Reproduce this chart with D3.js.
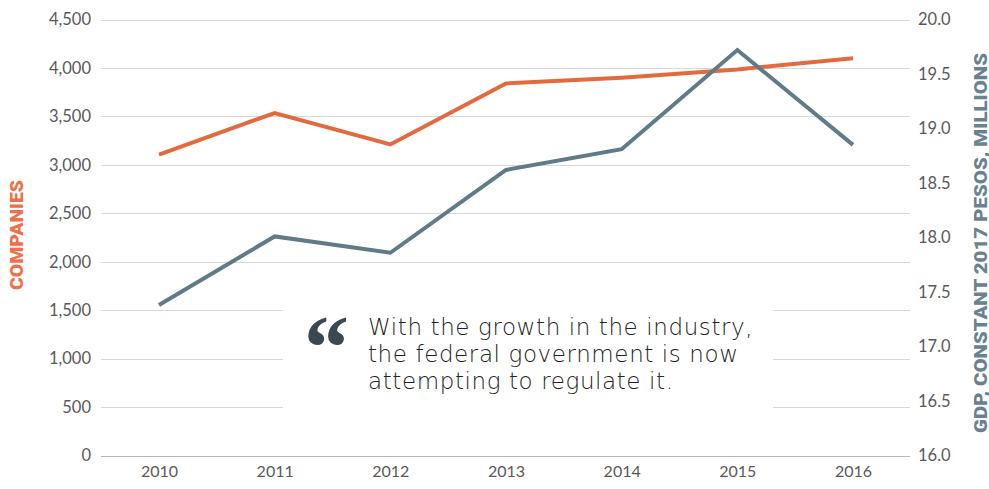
<!DOCTYPE html>
<html>
<head>
<meta charset="utf-8">
<script src="https://cdn.jsdelivr.net/npm/d3@7"></script>
<style>
  body { margin: 0; background: #fff; }
  text { font-family: Lato, "Open Sans", sans-serif; }
</style>
</head>
<body>
<script>
/* Data */
var years = ["2010", "2011", "2012", "2013", "2014", "2015", "2016"];
var companies = [3105, 3535, 3210, 3840, 3900, 3985, 4100];
var gdp = [17.38, 18.01, 17.86, 18.62, 18.81, 19.72, 18.85];
var leftTicks = [0, 500, 1000, 1500, 2000, 2500, 3000, 3500, 4000, 4500];
var rightTicks = [16.0, 16.5, 17.0, 17.5, 18.0, 18.5, 19.0, 19.5, 20.0];
var quoteLines = ["With the growth in the industry,", "the federal government is now", "attempting to regulate it."];

/* Display setup */
var width = 989, height = 489,
	margin = {top: 19, right: 79, bottom: 33, left: 101},
	orange = "#e3693f", slate = "#5f7b88",
	svg = d3.select("body").append("svg")
		.attr("width", width)
		.attr("height", height);

var x = d3.scalePoint().domain(years).range([159, 853]),
	yL = d3.scaleLinear().domain([0, 4500]).range([height - margin.bottom - 0.5, margin.top + 0.5]),
	yR = d3.scaleLinear().domain([16, 20]).range([height - margin.bottom - 0.5, margin.top + 0.5]);

// gridlines
svg.append("g").selectAll("line")
	.data(leftTicks)
	.enter().append("line")
		.attr("x1", margin.left)
		.attr("x2", width - margin.right)
		.attr("y1", function(d) { return Math.round(yL(d)) + 0.5; })
		.attr("y2", function(d) { return Math.round(yL(d)) + 0.5; })
		.style("stroke", function(d) { return d == 0 ? "#b5b5b5" : "#d8d8d8"; })
		.style("stroke-width", 1);

// left axis
var leftAxis = svg.append("g")
	.attr("transform", "translate(" + (margin.left - 10) + ",0)")
	.call(d3.axisLeft(yL).tickValues(leftTicks).tickSize(0).tickPadding(0).tickFormat(d3.format(",")));
leftAxis.select(".domain").remove();
leftAxis.selectAll("text").style("font-size", "16.5px").style("fill", "#595959").style("font-family", "Lato, sans-serif");

// right axis
var rightAxis = svg.append("g")
	.attr("transform", "translate(" + (width - margin.right + 8) + ",0)")
	.call(d3.axisRight(yR).tickValues(rightTicks).tickSize(0).tickPadding(0).tickFormat(d3.format(".1f")));
rightAxis.select(".domain").remove();
rightAxis.selectAll("text").style("font-size", "16.5px").style("fill", "#595959").style("font-family", "Lato, sans-serif");

// bottom axis
var bottomAxis = svg.append("g")
	.attr("transform", "translate(0," + (height - margin.bottom + 10) + ")")
	.call(d3.axisBottom(x).tickSize(0).tickPadding(0));
bottomAxis.select(".domain").remove();
bottomAxis.selectAll("text").style("font-size", "16px").style("fill", "#595959").style("font-family", "Lato, sans-serif");

// axis titles (stretched to the width the original lettering takes)
svg.append("text")
	.attr("transform", "translate(22.5,235) rotate(-90)")
	.attr("text-anchor", "middle")
	.attr("textLength", 110)
	.attr("lengthAdjust", "spacingAndGlyphs")
	.style("font-family", "Roboto, sans-serif")
	.style("font-size", "18px")
	.style("font-weight", 900)
	.style("fill", "#ee6f48")
	.text("COMPANIES");

svg.append("text")
	.attr("transform", "translate(986.5,243) rotate(-90)")
	.attr("text-anchor", "middle")
	.attr("textLength", 380)
	.attr("lengthAdjust", "spacingAndGlyphs")
	.style("font-family", "Roboto, sans-serif")
	.style("font-size", "18px")
	.style("font-weight", 900)
	.style("fill", "#68828f")
	.text("GDP, CONSTANT 2017 PESOS, MILLIONS");

// lines
var lineL = d3.line()
	.x(function(d, i) { return x(years[i]); })
	.y(function(d) { return yL(d); });
var lineR = d3.line()
	.x(function(d, i) { return x(years[i]); })
	.y(function(d) { return yR(d); });

svg.append("path")
	.datum(companies)
	.attr("d", lineL)
	.style("fill", "none")
	.style("stroke", orange)
	.style("stroke-width", 4);

svg.append("path")
	.datum(gdp)
	.attr("d", lineR)
	.style("fill", "none")
	.style("stroke", slate)
	.style("stroke-width", 4);

/* Quote box */
var quote = svg.append("g");
quote.append("rect")
	.attr("x", 283)
	.attr("y", 300)
	.attr("width", 490)
	.attr("height", 115)
	.style("fill", "#fff");

quote.append("text")
	.attr("x", 304)
	.attr("y", 378)
	.style("font-family", "'Liberation Serif', serif")
	.style("font-size", "90px")
	.style("font-weight", 700)
	.style("fill", "#3b4751")
	.text("\u201C");

quote.selectAll("text.quoteLine")
	.data(quoteLines)
	.enter().append("text")
		.attr("class", "quoteLine")
		.attr("x", 368)
		.attr("y", function(d, i) { return 335 + i * 27; })
		.style("font-family", "'DejaVu Sans', sans-serif")
		.style("font-size", "23px")
		.style("font-weight", 200)
		.style("letter-spacing", "0.6px")
		.style("fill", "#222")
		.text(function(d) { return d; });
</script>
</body>
</html>
